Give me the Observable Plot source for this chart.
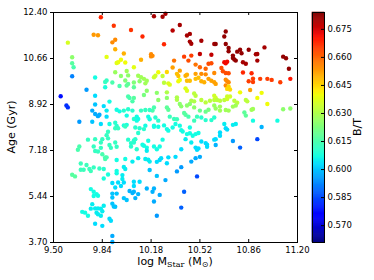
<!DOCTYPE html>
<html><head><meta charset="utf-8">
<script src="https://cdn.jsdelivr.net/npm/d3@7"></script>
<script src="https://cdn.jsdelivr.net/npm/@observablehq/plot@0.6"></script>
<style>
body{margin:0;background:#fff;}
#wrap{position:relative;width:374px;height:280px;font-family:"DejaVu Sans",sans-serif;}
#wrap svg{position:absolute;top:0;overflow:visible;}
</style></head><body><div id="wrap"></div>
<script>
const xTicks = [9.50, 9.84, 10.18, 10.52, 10.86, 11.20];
const yTicks = [3.70, 5.44, 7.18, 8.92, 10.66, 12.40];
const cbTicks = [0.570, 0.585, 0.600, 0.615, 0.630, 0.645, 0.660, 0.675];
const btDomain = [0.561, 0.684];

const mass = [
9.83,9.92,10.04,9.78,9.81,9.60,9.91,9.93,9.93,9.99,
9.87,9.97,9.95,10.00,9.94,10.06,9.63,9.63,9.64,9.93,
10.01,9.97,10.02,10.00,10.06,9.63,9.79,9.87,9.86,9.91,
9.86,9.96,10.01,10.02,10.06,9.73,9.55,9.79,10.02,10.03,
10.05,9.59,9.60,9.79,9.85,9.89,9.87,9.77,9.79,9.81,
9.82,9.94,9.96,9.99,10.02,10.01,10.05,9.87,9.68,9.77,
9.83,9.89,9.93,9.94,9.99,10.01,10.06,
10.20,10.26,10.28,10.38,10.33,10.43,10.45,10.12,10.45,10.46,
10.53,10.62,10.27,10.18,10.19,10.18,10.41,10.46,10.52,10.60,
10.11,10.34,10.44,10.33,10.38,10.49,10.52,10.56,10.58,10.60,
10.23,10.29,10.36,10.37,10.42,10.43,10.49,10.53,10.56,10.09,
10.11,10.20,10.21,10.26,10.13,10.15,10.14,10.10,10.27,10.30,
10.31,10.37,10.38,10.43,10.45,10.49,10.51,10.53,10.55,10.58,
10.60,10.62,10.15,10.22,10.29,10.42,10.43,10.48,10.49,10.36,
10.36,10.13,10.06,10.23,10.29,10.46,10.48,10.53,10.56,10.59,
10.62,10.20,10.19,10.11,10.14,10.17,10.29,10.30,10.38,10.39,
10.43,10.45,10.48,10.52,10.56,10.58,10.08,10.09,10.08,10.16,
10.17,10.21,10.23,10.31,10.34,10.36,10.41,10.42,10.44,10.48,
10.50,10.53,10.56,10.60,10.14,10.20,10.27,10.35,10.38,
10.70,10.69,10.63,10.70,10.72,10.72,10.80,10.78,10.81,10.86,
10.75,10.75,10.76,10.77,10.91,10.92,10.97,10.82,10.84,10.92,
11.10,11.12,11.14,11.15,10.69,10.70,10.71,10.67,10.68,10.70,
10.72,10.62,10.63,10.70,10.71,10.70,10.72,10.82,10.88,10.86,
10.89,10.89,10.94,10.99,11.02,11.08,10.87,10.62,10.63,10.72,
10.71,10.73,10.80,10.95,10.99,10.92,10.64,10.66,10.69,10.71,
10.73,10.71,10.76,10.78,10.84,10.85,10.62,10.63,10.66,10.70,
10.66,10.72,10.75,10.77,10.88,10.89,10.83,10.84,11.10,11.15,
10.62,10.89,11.06,10.69,10.75,10.77,10.95,
9.88,9.87,9.93,9.95,10.00,9.74,9.79,9.84,9.88,9.68,
9.67,9.78,9.79,9.81,9.83,9.83,9.89,9.90,9.84,9.86,
9.86,9.87,9.93,9.94,10.02,10.04,10.04,10.06,9.94,10.00,
10.05,9.69,9.69,9.71,9.75,9.76,9.63,9.65,9.73,9.78,
9.82,9.85,9.94,9.94,9.88,9.85,9.99,10.00,9.98,9.98,
9.91,9.95,9.99,9.93,9.97,10.06,10.06,9.76,9.78,9.80,
9.78,9.81,9.91,9.94,10.03,10.05,10.06,9.99,10.01,9.91,
9.91,9.92,9.93,10.07,9.77,9.76,9.79,9.81,9.83,9.85,
9.70,9.72,9.74,9.80,9.81,9.84,9.83,9.89,9.90,9.79,
9.84,9.91,9.91,
10.07,10.10,10.13,10.20,10.23,10.29,10.30,10.33,10.39,10.40,
10.45,10.09,10.07,10.06,10.08,10.16,10.13,10.15,10.12,10.20,
10.22,10.24,10.26,10.15,10.43,10.45,10.47,10.49,10.51,10.42,
10.46,10.39,10.49,10.50,10.51,10.53,10.56,10.57,10.57,10.62,
10.14,10.16,10.17,10.09,10.22,10.24,10.25,10.30,10.29,10.35,
10.52,10.49,10.46,10.17,10.22,10.39,10.36,10.10,10.28,10.50,
10.15,10.19,10.20,10.24,10.09,10.20,10.41,10.39,10.22,
10.71,10.70,10.66,10.66,10.63,10.63,10.75,10.80,10.92
];

const age = [
12.22,11.90,11.74,11.56,11.54,11.26,11.27,11.37,11.01,10.85,
10.72,10.61,10.52,10.51,10.49,10.33,10.71,10.48,10.33,10.14,
10.19,10.00,10.02,9.83,9.75,9.99,9.94,9.83,9.77,9.75,
9.57,9.62,9.64,9.70,9.57,9.48,9.23,9.25,9.22,9.17,
9.04,8.88,8.81,8.92,8.86,9.03,8.69,8.69,8.56,8.48,
8.53,8.72,8.66,8.69,8.74,8.50,8.69,8.46,8.27,8.27,
8.18,8.18,8.23,8.11,8.13,8.15,8.37,
12.26,12.24,12.35,11.93,11.72,11.53,11.59,11.49,11.30,11.22,
11.33,11.21,11.20,10.82,10.76,10.74,10.73,10.77,10.83,10.80,
10.61,10.58,10.58,10.32,10.20,10.43,10.33,10.27,10.46,10.48,
10.14,10.15,10.08,10.00,10.01,10.05,10.08,10.08,10.06,10.01,
9.95,9.95,10.01,10.00,9.89,9.82,9.72,9.80,9.74,9.72,
9.67,9.80,9.85,9.82,9.82,9.89,9.93,9.80,9.76,9.89,
9.82,9.76,9.44,9.36,9.38,9.53,9.44,9.34,9.25,9.19,
9.10,9.28,9.17,9.09,9.17,9.06,9.04,9.09,9.00,9.06,
9.09,8.81,8.69,8.69,8.71,8.71,8.81,8.72,8.94,8.85,
8.88,8.94,8.81,8.69,8.65,8.72,8.46,8.37,8.31,8.46,
8.36,8.43,8.31,8.46,8.37,8.36,8.60,8.53,8.46,8.31,
8.46,8.43,8.33,8.33,8.12,8.12,8.13,8.18,8.12,
11.68,11.49,11.21,11.21,11.06,10.93,10.99,10.92,10.86,10.99,
10.77,10.68,10.62,10.58,10.82,10.83,11.08,10.52,10.46,10.58,
10.73,10.67,10.27,9.89,10.52,10.48,10.54,10.30,10.18,10.11,
10.10,10.11,9.70,9.86,9.80,9.64,9.76,10.13,10.10,9.80,
9.90,9.77,9.89,9.89,9.85,9.76,9.47,9.25,9.17,9.60,
9.51,9.49,9.38,9.36,8.94,9.17,9.09,9.06,9.09,9.22,
9.22,9.13,9.06,8.99,9.09,9.04,8.88,8.77,8.84,8.71,
8.69,8.69,8.84,8.88,8.72,8.75,8.62,8.50,8.74,8.77,
8.43,8.31,8.31,8.18,8.15,8.18,8.07,
7.89,7.76,8.02,8.02,8.09,7.59,7.61,7.61,7.64,7.33,
7.21,7.33,7.16,7.14,7.48,7.28,7.39,7.28,7.04,6.92,
6.86,6.92,7.48,7.32,7.59,7.46,7.33,7.56,6.82,6.86,
6.76,6.69,6.45,6.45,6.48,6.40,6.26,6.20,6.63,6.54,
6.50,6.48,6.41,6.32,6.27,6.12,6.56,6.48,6.25,6.10,
5.95,5.97,5.97,5.78,5.84,6.00,5.84,5.72,5.62,5.53,
5.46,5.47,5.55,5.55,5.65,5.57,5.62,5.38,5.31,5.40,
5.17,5.06,5.05,5.38,5.15,4.98,4.99,4.99,4.98,5.09,
4.86,4.83,4.71,4.83,4.77,4.88,4.71,4.60,4.52,4.41,
4.33,3.95,3.72,
8.05,8.02,7.99,8.08,8.08,7.99,7.93,8.05,7.95,7.90,
8.05,7.84,7.61,7.48,7.23,7.55,7.36,7.29,7.40,7.33,
7.23,7.33,7.59,7.17,7.80,7.83,7.74,7.80,7.84,7.61,
7.48,7.23,7.29,7.21,7.26,7.52,7.46,7.40,7.32,7.59,
6.86,6.83,6.76,6.89,6.75,6.82,6.89,6.92,6.70,6.94,
6.94,6.89,6.76,6.44,6.22,6.55,6.39,6.00,6.06,6.20,
5.74,5.62,5.74,5.50,5.53,5.25,5.62,5.02,4.71,
7.97,8.02,7.86,7.74,7.61,7.39,7.54,7.29,7.61
];

const bt = [
.668,.666,.666,.653,.653,.636,.655,.655,.650,.650,
.638,.640,.640,.640,.638,.638,.625,.617,.615,.627,
.628,.625,.625,.623,.623,.592,.607,.612,.612,.615,
.608,.615,.618,.618,.618,.595,.578,.603,.615,.615,
.615,.582,.582,.600,.603,.607,.605,.597,.597,.597,
.597,.607,.607,.610,.610,.607,.610,.603,.595,.600,
.603,.607,.610,.610,.608,.608,.610,
.680,.680,.680,.680,.678,.680,.680,.668,.680,.680,
.680,.680,.668,.655,.655,.655,.665,.665,.677,.677,
.650,.658,.663,.652,.652,.658,.660,.660,.663,.663,
.640,.645,.648,.648,.650,.650,.652,.655,.655,.628,
.628,.635,.635,.633,.628,.628,.628,.625,.632,.637,
.637,.640,.640,.648,.648,.648,.648,.650,.650,.652,
.652,.652,.625,.625,.630,.637,.637,.632,.632,.630,
.630,.622,.617,.625,.625,.630,.630,.632,.632,.632,
.632,.615,.615,.612,.612,.612,.618,.618,.625,.625,
.625,.625,.625,.620,.620,.622,.607,.607,.607,.607,
.607,.610,.610,.613,.613,.613,.617,.617,.615,.613,
.613,.610,.610,.610,.607,.607,.607,.607,.607,
.682,.682,.682,.682,.682,.682,.682,.682,.682,.682,
.682,.682,.682,.682,.680,.680,.680,.680,.680,.680,
.682,.682,.682,.670,.672,.672,.672,.663,.663,.663,
.663,.655,.652,.655,.655,.655,.655,.668,.668,.665,
.665,.665,.665,.665,.665,.665,.652,.635,.635,.645,
.645,.645,.640,.640,.640,.640,.632,.632,.632,.635,
.635,.635,.632,.632,.632,.632,.627,.627,.628,.628,
.628,.628,.628,.628,.628,.628,.618,.618,.625,.625,
.610,.607,.607,.605,.605,.605,.598,
.612,.612,.612,.612,.612,.612,.612,.612,.612,.615,
.615,.612,.612,.612,.612,.612,.612,.612,.615,.615,
.615,.615,.612,.612,.610,.610,.610,.610,.607,.607,
.605,.613,.613,.613,.613,.613,.617,.617,.613,.612,
.612,.610,.607,.607,.608,.608,.605,.605,.605,.605,
.603,.603,.603,.603,.603,.603,.603,.607,.607,.607,
.607,.607,.600,.600,.598,.598,.598,.600,.600,.600,
.600,.600,.600,.598,.605,.605,.605,.605,.605,.605,
.607,.607,.607,.605,.605,.605,.605,.603,.603,.603,
.603,.597,.597,
.610,.610,.610,.607,.607,.607,.607,.607,.607,.607,
.607,.610,.610,.610,.610,.607,.607,.607,.607,.607,
.607,.607,.607,.605,.607,.607,.607,.607,.607,.605,
.605,.603,.603,.603,.603,.603,.603,.603,.603,.603,
.605,.605,.605,.605,.603,.603,.603,.603,.603,.603,
.597,.597,.597,.600,.600,.595,.595,.603,.597,.585,
.598,.598,.598,.597,.598,.597,.588,.588,.595,
.603,.603,.603,.603,.603,.598,.595,.588,.585
];

// matplotlib "jet" colormap
function jet(t) {
  t = Math.max(0, Math.min(1, t));
  const seg = (pts) => {
    for (let i = 1; i < pts.length; i++) {
      if (t <= pts[i][0]) {
        const [x0, y0] = pts[i - 1], [x1, y1] = pts[i];
        return y0 + (y1 - y0) * (t - x0) / (x1 - x0);
      }
    }
    return pts[pts.length - 1][1];
  };
  const r = seg([[0,0],[0.35,0],[0.66,1],[0.89,1],[1,0.5]]);
  const g = seg([[0,0],[0.125,0],[0.375,1],[0.64,1],[0.91,0],[1,0]]);
  const b = seg([[0,0.5],[0.11,1],[0.34,1],[0.65,0],[1,0]]);
  return `rgb(${Math.round(r*255)},${Math.round(g*255)},${Math.round(b*255)})`;
}

const n = Math.min(mass.length, age.length, bt.length);
const points = d3.range(n).map(i => ({mass: mass[i], age: age[i], bt: bt[i]}));
const colorScale = {type: "linear", domain: btDomain, interpolate: jet, clamp: true};
const fmt2 = d => d.toFixed(2);
const font = {fontFamily: "DejaVu Sans", fontSize: "8.5px", background: "transparent", color: "#000", overflow: "visible"};

const main = Plot.plot({
  width: 300, height: 280,
  marginLeft: 53, marginRight: 3, marginTop: 12, marginBottom: 38,
  style: font,
  x: {domain: [9.50, 11.20]},
  y: {domain: [3.70, 12.40]},
  color: colorScale,
  marks: [
    Plot.dot(points, {x: "mass", y: "age", fill: "bt", r: 2.2}),
    Plot.ruleX(xTicks, {x: d => d, insetTop: 227, stroke: "#000"}),
    Plot.ruleX(xTicks, {x: d => d, insetBottom: 227, stroke: "#000"}),
    Plot.ruleY(yTicks, {y: d => d, insetLeft: 241, stroke: "#000"}),
    Plot.frame({stroke: "#000"}),
    Plot.axisY(yTicks, {tickSize: 3, tickPadding: 3, tickFormat: fmt2, fontSize: 8.5, label: null}),
    Plot.axisX(xTicks, {tickSize: 0, tickPadding: 4, tickFormat: fmt2, fontSize: 8.5, label: null})
  ]
});
main.style.left = "0px";

const cbStep = 0.0005;
const cbVals = d3.range(btDomain[0], btDomain[1], cbStep);
const bar = Plot.plot({
  width: 62, height: 280,
  marginLeft: 0, marginRight: 50, marginTop: 12, marginBottom: 38,
  style: font,
  x: {domain: [0, 1], axis: null},
  y: {domain: btDomain, axis: null},
  color: colorScale,
  marks: [
    Plot.rect(cbVals, {x1: 0, x2: 1, y1: d => d, y2: d => Math.min(d + cbStep, btDomain[1]), fill: d => d + cbStep / 2, stroke: d => d + cbStep / 2, strokeWidth: 0.6}),
    Plot.ruleY(cbTicks, {y: d => d, insetLeft: 9, stroke: "#000"}),
    Plot.frame({stroke: "#000"}),
    Plot.axisY(cbTicks, {anchor: "right", tickSize: 0, tickPadding: 3, tickFormat: d => d.toFixed(3), fontSize: 8.5, label: null})
  ]
});
bar.style.left = "312px";

const wrap = document.getElementById("wrap");
wrap.appendChild(main);
wrap.appendChild(bar);

// axis titles
const ms = d3.select(main);
ms.append("text")
  .attr("transform", "translate(15,127) rotate(-90)")
  .attr("text-anchor", "middle").attr("font-size", 11).attr("fill", "#000")
  .text("Age (Gyr)");
const xl = ms.append("text")
  .attr("x", 175).attr("y", 264.5)
  .attr("text-anchor", "middle").attr("font-size", 11).attr("fill", "#000");
xl.append("tspan").text("log M");
xl.append("tspan").attr("font-family", "DejaVu Serif").attr("font-size", 8).attr("dy", 2.5).text("Star");
xl.append("tspan").attr("dy", -2.5).text(" (M");
xl.append("tspan").attr("font-size", 8).attr("dy", 2.5).text("\u2299");
xl.append("tspan").attr("dy", -2.5).text(")");

d3.select(bar).append("text")
  .attr("transform", "translate(49,127) rotate(-90)")
  .attr("text-anchor", "middle").attr("font-size", 11).attr("fill", "#000")
  .text("B/T");
</script>
</body></html>
